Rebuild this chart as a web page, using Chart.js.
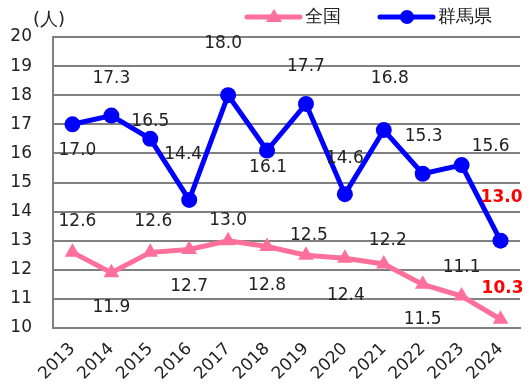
<!DOCTYPE html>
<html>
<head>
<meta charset="UTF-8">
<title>群馬県 全国</title>
<script src="https://cdn.jsdelivr.net/npm/chart.js@4"></script>
<style>
  html, body { margin: 0; padding: 0; background: #fff; }
  #wrap { width: 529px; height: 388px; }
</style>
</head>
<body>
<div id="wrap"><canvas id="myChart" width="529" height="388"></canvas></div>
<script>
// data
var years = ['2013','2014','2015','2016','2017','2018','2019','2020','2021','2022','2023','2024'];
var zenkoku = [12.6, 11.9, 12.6, 12.7, 13.0, 12.8, 12.5, 12.4, 12.2, 11.5, 11.1, 10.3];
var gunma = [17.0, 17.3, 16.5, 14.4, 18.0, 16.1, 17.7, 14.6, 16.8, 15.3, 15.6, 13.0];
var yTicks = [10, 11, 12, 13, 14, 15, 16, 17, 18, 19, 20];

// where each value label sits relative to its point (px)
var gunmaLabelPos = [[5,26],[0,-37],[0,-17],[-6,-45],[-5,-52],[1,17],[0,-37],[0,-36],[6,-52],[1,-37],[29,-18],[1,-43]];
var zenkokuLabelPos = [[5,-31],[0,35],[3,-31],[0,37],[0,-20],[0,39],[3,-20],[1,37],[4,-23],[0,35],[0,-28],[2,-31]];

var FONT = 'DejaVu Sans, Verdana, sans-serif';
var PINK = '#ff6f9c';
var BLUE = '#0000ff';

var labelPlugin = {
  id: 'valueLabels',
  afterDatasetsDraw: function(chart) {
    var ctx = chart.ctx;
    var sets = [[0, zenkoku, zenkokuLabelPos], [1, gunma, gunmaLabelPos]];
    ctx.save();
    ctx.textAlign = 'center';
    ctx.textBaseline = 'middle';
    sets.forEach(function(s) {
      var meta = chart.getDatasetMeta(s[0]);
      meta.data.forEach(function(pt, i) {
        var last = i === s[1].length - 1;
        ctx.font = (last ? 'bold ' : '') + '17px ' + FONT;
        ctx.fillStyle = last ? '#ff0000' : '#222';
        ctx.fillText(s[1][i].toFixed(1), pt.x + s[2][i][0], pt.y + s[2][i][1]);
      });
    });
    // unit
    ctx.font = '18px ' + FONT;
    ctx.fillStyle = '#222';
    ctx.textAlign = 'left';
    ctx.fillText('(人)', 33, 20);

    // legend
    var items = [['全国', PINK, 'triangle', 247], ['群馬県', BLUE, 'circle', 380]];
    items.forEach(function(it) {
      var x = it[3], y = 17, cx = x + 27;
      ctx.strokeStyle = it[1];
      ctx.lineWidth = 5;
      ctx.lineCap = 'round';
      ctx.beginPath();
      ctx.moveTo(x, y); ctx.lineTo(x + 53, y);
      ctx.stroke();
      ctx.fillStyle = it[1];
      ctx.beginPath();
      if (it[2] === 'circle') {
        ctx.arc(cx, y, 7, 0, Math.PI * 2);
      } else {
        ctx.moveTo(cx, y - 8); ctx.lineTo(cx + 8, y + 5); ctx.lineTo(cx - 8, y + 5); ctx.closePath();
      }
      ctx.fill();
      ctx.fillStyle = '#222';
      ctx.font = '18px ' + FONT;
      ctx.textAlign = 'left';
      ctx.fillText(it[0], x + 58, y);
    });
    ctx.restore();
  }
};

var ctx = document.getElementById('myChart').getContext('2d');
var chart = new Chart(ctx, {
  type: 'line',
  data: {
    labels: years,
    datasets: [{
      label: '全国',
      data: zenkoku,
      borderColor: PINK,
      backgroundColor: PINK,
      borderWidth: 5,
      pointStyle: 'triangle',
      pointRadius: 9,
      pointBorderWidth: 0,
      tension: 0,
      clip: false
    }, {
      label: '群馬県',
      data: gunma,
      borderColor: BLUE,
      backgroundColor: BLUE,
      borderWidth: 5,
      pointStyle: 'circle',
      pointRadius: 8,
      pointBorderWidth: 0,
      tension: 0,
      clip: false
    }]
  },
  options: {
    responsive: false,
    animation: false,
    devicePixelRatio: 1,
    layout: { padding: { top: 37, right: 2, left: 0, bottom: 0 } },
    plugins: { legend: { display: false }, tooltip: { enabled: false } },
    scales: {
      x: {
        offset: true,
        grid: { display: false },
        border: { color: '#808080', width: 2 },
        ticks: { color: '#222', font: { family: FONT, size: 17 }, maxRotation: 45, minRotation: 45, padding: 3 },
        afterFit: function(s) { s.height = 60; }
      },
      y: {
        min: 10, max: 20,
        afterBuildTicks: function(s) { s.ticks = yTicks.map(function(v) { return { value: v }; }); },
        grid: { color: '#808080', lineWidth: 2, drawTicks: false },
        border: { color: '#808080', width: 2 },
        ticks: { color: '#222', font: { family: FONT, size: 17 }, padding: 21 },
        afterFit: function(s) { s.width = 53; }
      }
    }
  },
  plugins: [labelPlugin]
});
</script>
</body>
</html>
